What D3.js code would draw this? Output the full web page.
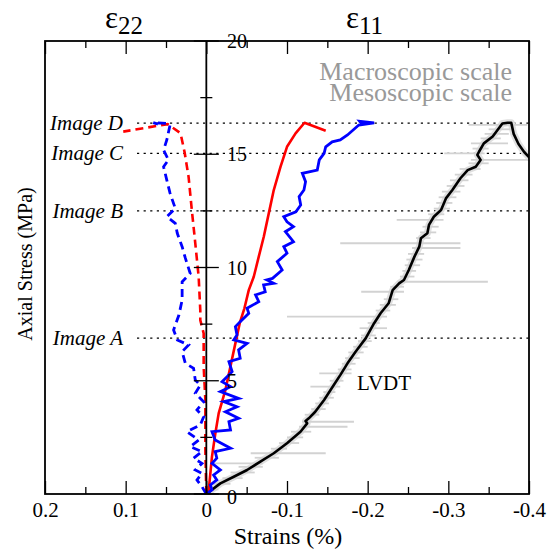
<!DOCTYPE html>
<html><head><meta charset="utf-8">
<script src="https://cdn.jsdelivr.net/npm/d3@7"></script>
<style>
body{margin:0;background:#fff;}
svg{display:block;font-family:"Liberation Serif","Times New Roman",serif;}
</style></head>
<body><svg id="c" width="555" height="549"></svg>
<script>
// ---- data ----
const xMajorTicks = [0.2, 0.1, 0, -0.1, -0.2, -0.3, -0.4];
const xMajorLabels = ["0.2", "0.1", "0", "-0.1", "-0.2", "-0.3", "-0.4"];
const xMinorTicks = [0.15, 0.05, -0.05, -0.15, -0.25, -0.35];
const yMajorTicks = [0, 5, 10, 15, 20];
const yMinorTicks = [2.5, 7.5, 12.5, 17.5];
const imageNames = ["Image A", "Image B", "Image C", "Image D"];
const imageStress = [6.88, 12.5, 15.04, 16.37];

// eps11, macroscopic (red solid)
const e11Macro = [[0,0],[-0.003,0.18],[-0.007,1.65],[-0.0112,2.68],[-0.0153,3.56],[-0.0236,4.59],[-0.0298,5.62],[-0.036,6.65],[-0.0414,7.54],[-0.0472,8.2],[-0.0526,9.0],[-0.0588,9.59],[-0.065,10.48],[-0.0712,11.36],[-0.0774,12.39],[-0.0836,13.42],[-0.092,14.45],[-0.100,15.33],[-0.1106,15.92],[-0.1217,16.39],[-0.148,16.04]];
// eps11, mesoscopic (blue solid)
const e11Meso = [[0,0],[-0.007,0.18],[-0.005,0.40],[-0.013,0.62],[-0.009,0.84],[-0.0174,1.06],[-0.007,1.35],[-0.013,1.58],[-0.011,1.87],[-0.030,2.02],[-0.011,2.38],[-0.007,2.75],[-0.030,2.83],[-0.028,3.19],[-0.040,3.34],[-0.0236,3.63],[-0.038,3.85],[-0.0215,4.08],[-0.040,4.22],[-0.0174,4.52],[-0.030,4.74],[-0.0195,4.96],[-0.032,5.40],[-0.028,5.84],[-0.042,5.99],[-0.040,6.36],[-0.0505,6.65],[-0.034,6.80],[-0.038,7.02],[-0.036,7.39],[-0.042,7.61],[-0.0526,7.98],[-0.0505,8.20],[-0.065,8.49],[-0.061,8.79],[-0.073,8.93],[-0.071,9.23],[-0.0836,9.30],[-0.075,9.45],[-0.082,9.52],[-0.094,9.89],[-0.088,10.26],[-0.100,10.63],[-0.096,10.92],[-0.108,11.14],[-0.098,11.58],[-0.108,11.80],[-0.100,12.02],[-0.096,12.24],[-0.111,12.46],[-0.117,12.76],[-0.115,13.13],[-0.121,13.42],[-0.123,13.79],[-0.119,14.16],[-0.1375,14.30],[-0.140,14.75],[-0.146,15.04],[-0.148,15.33],[-0.156,15.55],[-0.166,15.63],[-0.175,15.85],[-0.189,16.29],[-0.208,16.39],[-0.190,16.46],[-0.193,16.33]];
// eps22, macroscopic (red dashed)
const e22Macro = [[0,0],[0.0012,1.94],[0.0012,4.15],[0.0033,5.62],[0.0033,7.09],[0.0075,7.68],[0.0075,8.12],[0.0095,9.59],[0.0137,11.07],[0.018,12.54],[0.022,14.0],[0.027,15.1],[0.032,15.93],[0.048,16.33],[0.103,16.0]];
// eps22, mesoscopic (blue dashed)
const e22Meso = [[0,0],[0.0054,0.32],[0.0116,0.62],[0.0054,0.91],[0.0137,1.06],[0.0054,1.35],[0.0158,1.58],[0.0054,1.87],[0.020,2.09],[0.0095,2.38],[0.024,2.75],[0.0075,3.05],[0.0033,3.41],[0.0116,3.71],[0.0033,4.07],[0.0137,4.45],[0.0075,4.81],[0.0137,5.03],[0.0158,5.55],[0.026,5.77],[0.030,6.28],[0.022,6.58],[0.036,6.80],[0.0406,7.24],[0.034,7.90],[0.030,8.56],[0.030,8.93],[0.030,9.37],[0.020,9.74],[0.026,10.41],[0.030,10.92],[0.036,11.51],[0.0385,11.95],[0.049,12.24],[0.0385,12.61],[0.045,13.28],[0.049,13.86],[0.053,14.45],[0.047,14.75],[0.053,15.19],[0.049,15.63],[0.045,16.29],[0.048,16.36],[0.066,16.40],[0.060,16.33]];
// LVDT (black)
const lvdt = [[0,0],[-0.0174,0.47],[-0.034,0.76],[-0.0505,1.06],[-0.067,1.43],[-0.0836,1.80],[-0.100,2.24],[-0.1167,2.75],[-0.125,3.12],[-0.123,3.22],[-0.127,3.34],[-0.135,3.63],[-0.146,4.15],[-0.154,4.59],[-0.158,4.81],[-0.166,5.25],[-0.175,5.77],[-0.185,6.28],[-0.1975,6.87],[-0.208,7.54],[-0.216,7.98],[-0.226,8.42],[-0.231,9.0],[-0.239,9.30],[-0.245,9.45],[-0.251,9.89],[-0.258,10.48],[-0.264,10.92],[-0.266,11.29],[-0.274,11.51],[-0.276,11.88],[-0.282,12.24],[-0.291,12.54],[-0.297,13.05],[-0.305,13.42],[-0.315,13.94],[-0.324,14.30],[-0.334,14.45],[-0.340,14.75],[-0.336,14.97],[-0.338,15.11],[-0.344,15.48],[-0.355,15.78],[-0.361,16.07],[-0.367,16.36],[-0.3735,16.39],[-0.378,16.39],[-0.381,15.9],[-0.387,15.45],[-0.394,15.1],[-0.402,14.8]];
// raw macroscopic readings (grey scatter): [stress, strain from, strain to]
const lvdtRawStress = [0.2,0.45,0.7,0.95,1.2,1.35,1.6,1.8,2.0,2.25,2.5,2.75,2.97,3.19,3.5,3.75,4.0,4.25,4.5,4.74,5.0,5.33,5.5,5.75,6.0,6.25,6.5,6.75,7.0,7.32,7.55,7.83,8.1,8.35,8.6,8.93,9.15,9.37,9.6,9.85,10.1,10.35,10.6,10.86,11.07,11.3,11.55,11.8,12.1,12.35,12.6,12.85,13.1,13.35,13.6,13.85,14.1,14.35,14.6,14.75,15.04,15.25,15.48,15.7,15.9,16.1,16.3];
const lvdtRawFrom = [-0.002,-0.008,-0.02,-0.03,-0.04,-0.005,-0.06,-0.055,-0.08,-0.09,-0.1,-0.105,-0.115,-0.119,-0.122,-0.13,-0.135,-0.14,-0.145,-0.129,-0.153,-0.14,-0.163,-0.168,-0.172,-0.176,-0.182,-0.188,-0.192,-0.19,-0.2,-0.1,-0.21,-0.215,-0.22,-0.192,-0.228,-0.237,-0.24,-0.243,-0.246,-0.248,-0.25,-0.255,-0.166,-0.26,-0.265,-0.268,-0.236,-0.275,-0.282,-0.285,-0.288,-0.292,-0.298,-0.302,-0.308,-0.314,-0.325,-0.328,-0.295,-0.33,-0.328,-0.34,-0.345,-0.35,-0.325];
const lvdtRawTo = [-0.015,-0.03,-0.045,-0.06,-0.07,-0.07,-0.09,-0.148,-0.1,-0.115,-0.12,-0.13,-0.175,-0.183,-0.14,-0.148,-0.152,-0.158,-0.16,-0.166,-0.17,-0.18,-0.18,-0.185,-0.19,-0.195,-0.2,-0.205,-0.21,-0.224,-0.215,-0.224,-0.228,-0.235,-0.238,-0.245,-0.245,-0.349,-0.258,-0.26,-0.265,-0.268,-0.27,-0.315,-0.315,-0.278,-0.285,-0.288,-0.294,-0.295,-0.302,-0.305,-0.31,-0.315,-0.32,-0.325,-0.33,-0.34,-0.35,-0.399,-0.345,-0.35,-0.374,-0.365,-0.375,-0.38,-0.398];

// ---- layout ----
const svg = d3.select("#c");
const L = 45, R = 529, T = 41, B = 494;
const x = d3.scaleLinear().domain([0.2, -0.4]).range([L, R]);
const y = d3.scaleLinear().domain([0, 20]).range([B, T]);
const x0 = x(0);

svg.append("defs").append("clipPath").attr("id","clip")
  .append("rect").attr("x",L).attr("y",T).attr("width",R-L).attr("height",B-T);

// image reference lines
const gImg = svg.append("g");
imageStress.forEach((s,i)=>{
  gImg.append("line").attr("x1",137).attr("x2",R).attr("y1",y(s)).attr("y2",y(s))
    .attr("stroke","#000").attr("stroke-width",1.3).attr("stroke-dasharray","2.2,4.4");
  gImg.append("text").attr("x",123).attr("y",y(s)).attr("dy","0.33em")
    .attr("text-anchor","end").attr("font-style","italic").attr("font-size",21)
    .text(imageNames[i]);
});

const line = d3.line().x(d=>x(d[0])).y(d=>y(d[1]));
const plot = svg.append("g").attr("clip-path","url(#clip)");
// grey raw readings: band along curve + horizontal scatter
plot.append("path").datum(lvdt).attr("d",line).attr("fill","none")
  .attr("stroke","#e0e0e0").attr("stroke-width",7).attr("stroke-linejoin","round");
plot.append("g").selectAll("path").data(lvdtRawStress.map((s,i)=>[[lvdtRawFrom[i],s],[lvdtRawTo[i],s]]))
  .join("path").attr("d",line).attr("fill","none").attr("stroke","#d2d2d2").attr("stroke-width",1.8);
plot.append("path").datum(lvdt).attr("d",line).attr("fill","none")
  .attr("stroke","#000").attr("stroke-width",2.6).attr("stroke-linejoin","round");
plot.append("path").datum(e11Macro).attr("d",line).attr("fill","none")
  .attr("stroke","#ff0000").attr("stroke-width",2.6).attr("stroke-linejoin","round");
plot.append("path").datum(e22Macro).attr("d",line).attr("fill","none")
  .attr("stroke","#ff0000").attr("stroke-width",2.6).attr("stroke-dasharray","8,5");
plot.append("path").datum(e11Meso).attr("d",line).attr("fill","none")
  .attr("stroke","#0000ff").attr("stroke-width",2.8).attr("stroke-linejoin","miter");
plot.append("path").datum(e22Meso).attr("d",line).attr("fill","none")
  .attr("stroke","#0000ff").attr("stroke-width",2.8).attr("stroke-dasharray","8,5");

// frame
svg.append("rect").attr("x",L).attr("y",T).attr("width",R-L).attr("height",B-T)
  .attr("fill","none").attr("stroke","#000").attr("stroke-width",1.8);

// x axes (ticks inward)
const axB = d3.axisBottom(x).tickValues(xMajorTicks).tickSizeInner(-13).tickSizeOuter(0).tickPadding(10)
  .tickFormat((d,i)=>xMajorLabels[i]);
const gB = svg.append("g").attr("transform",`translate(0,${B})`).call(axB);
gB.select(".domain").remove();
gB.selectAll("line").attr("stroke","#000").attr("stroke-width",1.3);
gB.selectAll("text").attr("font-family","Liberation Serif").attr("font-size",21).attr("fill","#000").attr("dy","0.62em");
const gBm = svg.append("g").attr("transform",`translate(0,${B})`)
  .call(d3.axisBottom(x).tickValues(xMinorTicks).tickSizeInner(-7).tickSizeOuter(0).tickFormat(""));
gBm.select(".domain").remove();
gBm.selectAll("line").attr("stroke","#000").attr("stroke-width",1.3);

const gT = svg.append("g").attr("transform",`translate(0,${T})`)
  .call(d3.axisTop(x).tickValues(xMajorTicks).tickSizeInner(-13).tickSizeOuter(0).tickFormat(""));
gT.select(".domain").remove();
gT.selectAll("line").attr("stroke","#000").attr("stroke-width",1.3);
const gTm = svg.append("g").attr("transform",`translate(0,${T})`)
  .call(d3.axisTop(x).tickValues(xMinorTicks).tickSizeInner(-7).tickSizeOuter(0).tickFormat(""));
gTm.select(".domain").remove();
gTm.selectAll("line").attr("stroke","#000").attr("stroke-width",1.3);

// central y axis
svg.append("line").attr("x1",x0).attr("x2",x0).attr("y1",T).attr("y2",B)
  .attr("stroke","#000").attr("stroke-width",1.8);
const gY = svg.append("g");
yMajorTicks.forEach(v=>{
  gY.append("line").attr("x1",x0-12.5).attr("x2",x0+12.5).attr("y1",y(v)).attr("y2",y(v))
    .attr("stroke","#000").attr("stroke-width",1.3);
  gY.append("text").attr("x",227).attr("y",y(v)).attr("dy", v===0 ? "0.5em" : "0.35em")
    .attr("font-size",20).text(v);
});
yMinorTicks.forEach(v=>{
  gY.append("line").attr("x1",x0-6).attr("x2",x0+6).attr("y1",y(v)).attr("y2",y(v))
    .attr("stroke","#000").attr("stroke-width",1.3);
});

// axis titles
svg.append("text").attr("x",288).attr("y",544).attr("text-anchor","middle").attr("font-size",24).text("Strains (%)");
svg.append("text").attr("transform","translate(32,264) rotate(-90)").attr("text-anchor","middle")
  .attr("font-size",20).text("Axial Stress (MPa)");

// component titles
const t22 = svg.append("text").attr("x",105).attr("y",28);
t22.append("tspan").attr("font-size",31).text("ε");
t22.append("tspan").attr("font-size",25).attr("dy",6).text("22");
const t11 = svg.append("text").attr("x",346).attr("y",28);
t11.append("tspan").attr("font-size",31).text("ε");
t11.append("tspan").attr("font-size",25).attr("dy",6).text("11");

// legend text
svg.append("text").attr("x",512).attr("y",80).attr("text-anchor","end").attr("font-size",26)
  .attr("fill","#999").text("Macroscopic scale");
svg.append("text").attr("x",512).attr("y",101).attr("text-anchor","end").attr("font-size",26)
  .attr("fill","#999").text("Mesoscopic scale");
svg.append("text").attr("x",357).attr("y",390).attr("font-size",21).text("LVDT");
</script></body></html>
